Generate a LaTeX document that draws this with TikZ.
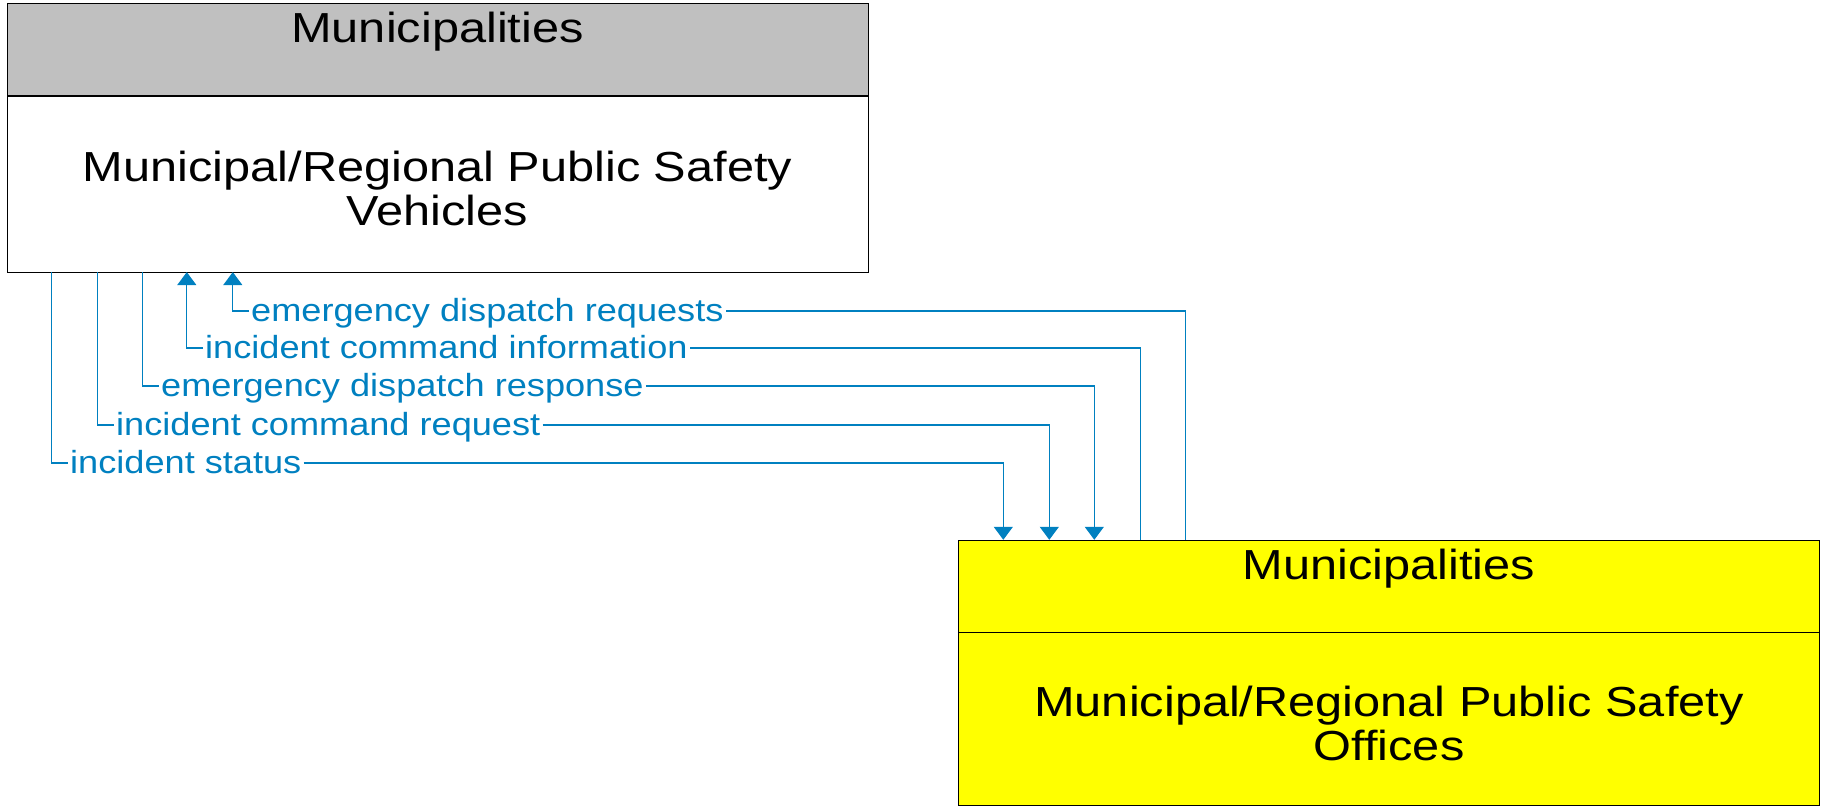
\documentclass[tikz,border=0pt]{standalone}
\usepackage{fontspec}
\setmainfont{Liberation Sans}
\newfontfamily\boxfont[FakeStretch=1.16]{Liberation Sans}
\newfontfamily\flowfont[FakeStretch=1.13]{Liberation Sans}
\usetikzlibrary{positioning,arrows.meta,calc}
\definecolor{flowblue}{RGB}{0,128,192}
\definecolor{hdrgray}{RGB}{192,192,192}
\definecolor{ofcyellow}{RGB}{255,255,0}
\tikzset{
  hdr/.style     = {draw, minimum width=861pt, minimum height=92pt, inner sep=0pt,
                    font=\boxfont\fontsize{42}{43.5}\selectfont, text height=39pt, text depth=53pt},
  body/.style    = {draw, minimum width=861pt, minimum height=176pt, inner sep=0pt,
                    align=center, font=\boxfont\fontsize{42}{43.5}\selectfont,
                    text height=83pt, text depth=0pt},
  flow/.style    = {flowblue, line width=1.2pt},
  arrow/.style   = {flow, -{Triangle[width=19pt,length=13pt]}},
  flowlbl/.style = {anchor=west, text=flowblue, inner sep=2pt, text height=28pt,
                    text depth=6.5pt, font=\flowfont\fontsize{32}{36}\selectfont},
}

\begin{document}
\begin{tikzpicture}[x=1pt, y=-1pt]
  \useasboundingbox (0,0) rectangle (1825,808);

  % vehicles
  \node[hdr, fill=hdrgray] (vehhdr) at (437.5,49.5) {Municipalities};
  \node[body, fill=white, below=0pt of vehhdr] (veh) {Municipal/Regional Public Safety \\ Vehicles};

  % offices
  \node[hdr, fill=ofcyellow] (ofchdr) at (1389,586) {Municipalities};
  \node[body, fill=ofcyellow, minimum height=173pt, below=0pt of ofchdr] (ofc) {Municipal/Regional Public Safety \\ Offices};

  % flow labels
  \node[flowlbl] (req)  at (249,311) {emergency dispatch requests};
  \node[flowlbl] (info) at (203,348) {incident command information};
  \node[flowlbl] (resp) at (159,386) {emergency dispatch response};
  \node[flowlbl] (creq) at (114,425) {incident command request};
  \node[flowlbl] (stat) at (68,463)  {incident status};

  \draw[arrow] ([xshift=227pt]ofchdr.north west) |- (req.east) (req.west) -| ([xshift=226pt]veh.south west);
  \draw[arrow] ([xshift=182pt]ofchdr.north west) |- (info.east) (info.west) -| ([xshift=180pt]veh.south west);
  \draw[arrow] ([xshift=136pt]veh.south west) |- (resp.west) (resp.east) -| ([xshift=136pt]ofchdr.north west);
  \draw[arrow] ([xshift=91pt]veh.south west) |- (creq.west) (creq.east) -| ([xshift=91pt]ofchdr.north west);
  \draw[arrow] ([xshift=45pt]veh.south west) |- (stat.west) (stat.east) -| ([xshift=45pt]ofchdr.north west);
\end{tikzpicture}
\end{document}
